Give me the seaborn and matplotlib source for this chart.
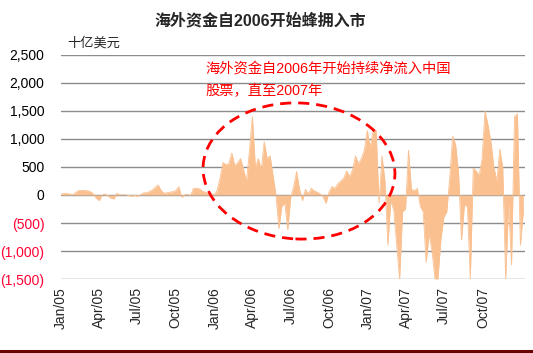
import matplotlib
matplotlib.use("Agg")
import matplotlib.pyplot as plt
import matplotlib.dates as mdates
from matplotlib.patches import Ellipse
from matplotlib.transforms import IdentityTransform
from matplotlib.lines import Line2D
import seaborn as sns
import pandas as pd
import numpy as np

# ---- data (weekly net foreign inflows, billion USD as labelled) ----
start_date = "2005-01-01"
flows = [
    10, 30, 30, 15, 0, 50, 80, 80, 80, 75,
    60, 20, -60, -100, 0, 20, -20, -60, -70, 30,
    0, 0, 0, -10, -20, -10, -20, 0, 40, 40,
    60, 90, 140, 180, 80, 30, 40, 50, 60, 80,
    150, -40, 0, 10, -10, 120, 120, 110, 70, 50,
    20, 30, 0, 80, 300, 580, 540, 560, 750, 520,
    580, 650, 450, 250, 800, 1400, 500, 650, 450, 950,
    650, 700, 350, 0, -600, -200, -150, -620, -50, 150,
    420, 100, -100, 100, 20, 120, 70, 50, 20, -30,
    -150, 50, 150, 120, 200, 250, 300, 430, 330, 450,
    700, 560, 650, 800, 1150, 850, 1150, 1150, -150, 700,
    250, -900, -100, -270, -900, -1500, -300, -250, 800, 100,
    80, 120, -200, -300, -1200, -700, -1000, -1500, -1500, -800,
    -400, -300, 300, 1050, 900, 400, -800, -180, -200, -1500,
    480, 430, 350, 650, 1500, 1250, 950, 500, 250, 820,
    500, -1500, -150, -1250, 1400, 1450, -900, -300,
]
dates = pd.date_range(start_date, periods=len(flows), freq="7D")
df = pd.DataFrame({"date": dates, "flow": flows})

y_ticks = [-1500, -1000, -500, 0, 500, 1000, 1500, 2000, 2500]
y_labels = ["(1,500)", "(1,000)", "(500)", "0", "500", "1,000", "1,500", "2,000", "2,500"]
x_tick_dates = pd.date_range("2005-01-01", "2007-10-01", freq="QS")

title = "海外资金自2006开始蜂拥入市"
unit = "十亿美元"
note_lines = ["海外资金自2006年开始持续净流入中国", "股票，直至2007年"]

# ---- style ----
sns.set_style("white")
plt.rcParams["font.family"] = ["Liberation Sans", "Noto Sans CJK SC", "DejaVu Sans"]

W, H = 533, 353
fig = plt.figure(figsize=(W / 100, H / 100), dpi=100)
ax = fig.add_axes([61 / W, 1 - 279 / H, (525 - 61) / W, (279 - 55) / H])

area_color = "#FAC090"
ax.fill_between(df["date"], 0, df["flow"], color=area_color, linewidth=0, zorder=2)
sns.lineplot(data=df, x="date", y="flow", ax=ax, color=area_color, linewidth=0.6, zorder=3)

ax.set_ylim(-1500, 2500)
ax.set_xlim(pd.Timestamp("2005-01-01"), pd.Timestamp("2008-01-09"))
ax.set_yticks(y_ticks)
ax.set_yticklabels(y_labels)
for t, v in zip(ax.get_yticklabels(), y_ticks):
    t.set_color("#FF0033" if v < 0 else "black")
    t.set_fontsize(10)
ax.set_xticks(x_tick_dates)
ax.xaxis.set_major_formatter(mdates.DateFormatter("%b/%y"))
plt.setp(ax.get_xticklabels(), rotation=90, fontsize=10, ha="center", va="top")
ax.tick_params(axis="both", length=0, pad=4)
ax.tick_params(axis="y", pad=12)
ax.tick_params(axis="x", pad=6)
ax.set_xlabel("")
ax.set_ylabel("")
for s in ax.spines.values():
    s.set_visible(False)
ax.yaxis.grid(True, color="#8C8C8C", linewidth=1.0, zorder=1)
ax.xaxis.grid(False)
ax.set_axisbelow(True)
leg = ax.get_legend()
if leg:
    leg.remove()

# ---- texts ----
fig.text(260 / W, 1 - 21 / H, title, ha="center", va="center", fontsize=11.5,
         fontweight="bold", family=["Liberation Sans", "Noto Sans CJK SC"])
fig.text(67 / W, 1 - 43 / H, unit, ha="left", va="center", fontsize=9.5,
         family=["Noto Sans CJK SC"])
fig.text(205 / W, 1 - 69 / H, note_lines[0], ha="left", va="center", fontsize=10.3,
         color="#FF0000", family=["Liberation Sans", "Noto Sans CJK SC"])
fig.text(205 / W, 1 - 91 / H, note_lines[1], ha="left", va="center", fontsize=10.3,
         color="#FF0000", family=["Liberation Sans", "Noto Sans CJK SC"])

# ---- dashed ellipse ----
ell = Ellipse((299, H - 171), 192, 136, angle=-3, transform=IdentityTransform(),
              fill=False, edgecolor="#FF0000", linewidth=2.0, linestyle=(0, (4, 2.5)),
              zorder=10)
fig.patches.append(ell)

# ---- bottom dark red bar ----
fig.add_artist(Line2D([0, 1], [1 - 351 / H, 1 - 351 / H], transform=fig.transFigure,
                      color="#6B0000", linewidth=2.2))

fig.savefig("out.png", dpi=100)
